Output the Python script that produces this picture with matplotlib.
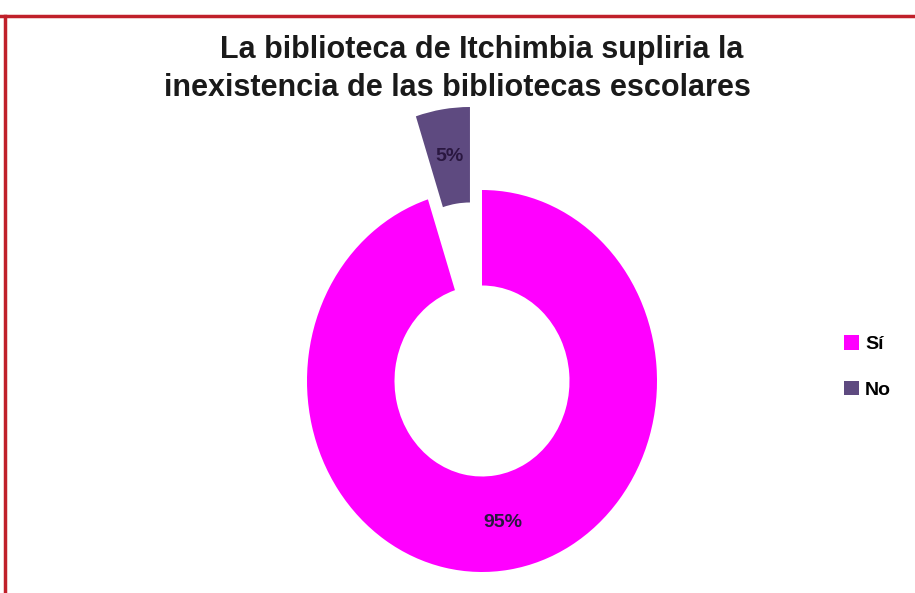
import matplotlib.pyplot as plt
from matplotlib.lines import Line2D

# datos de la encuesta
categorias = ['Sí', 'No']
valores = [95, 5]
etiquetas = ['95%', '5%']
colores = ['#ff00ff', '#5e4a80']
separacion = [0.0, 0.44]

W, H = 915, 593
fig = plt.figure(figsize=(W / 100, H / 100), dpi=100)
fig.patch.set_facecolor('white')

# borde rojo (arriba e izquierda)
fig.add_artist(Line2D([0, 1], [1 - 16 / H, 1 - 16 / H], color='#c0202a', lw=2.5, transform=fig.transFigure))
fig.add_artist(Line2D([5 / W, 5 / W], [0, 1 - 16 / H], color='#c0202a', lw=2.5, transform=fig.transFigure))

# ejes ajustados para que el anillo sea ligeramente elíptico
ax = fig.add_axes([307 / W, (H - 572) / H, 350 / W, 382 / H])
wedges, texts = ax.pie(valores, colors=colores, startangle=90, counterclock=False,
                       explode=separacion, radius=1.0,
                       wedgeprops=dict(width=0.5, linewidth=0),
                       labels=etiquetas, labeldistance=0.75,
                       textprops=dict(fontsize=14, fontweight='bold', color='#2a1740',
                                      ha='center', va='center', family='Liberation Sans'))
for w in wedges:
    w.set_clip_on(False)
for t in texts:
    t.set_clip_on(False)
ax.set_aspect('auto')
ax.set_xlim(-1, 1)
ax.set_ylim(-1, 1)
ax.axis('off')

fig.text(482 / W, 1 - 50 / H, 'La biblioteca de Itchimbia supliria la', ha='center', va='center',
         fontsize=22, fontweight='bold', family='Liberation Sans', color='#1a1a1a')
fig.text(457 / W, 1 - 88 / H, 'inexistencia de las bibliotecas escolares', ha='center', va='center',
         fontsize=22, fontweight='bold', family='Liberation Sans', color='#1a1a1a')

leg = fig.legend(wedges, categorias, loc='center left', bbox_to_anchor=(826 / W, 1 - 367 / H),
                 frameon=False, handlelength=0.8, handleheight=0.8, handletextpad=0.3,
                 labelspacing=1.4, prop=dict(size=14, weight='bold', family='Liberation Sans'))

fig.savefig('out.png', dpi=100)
